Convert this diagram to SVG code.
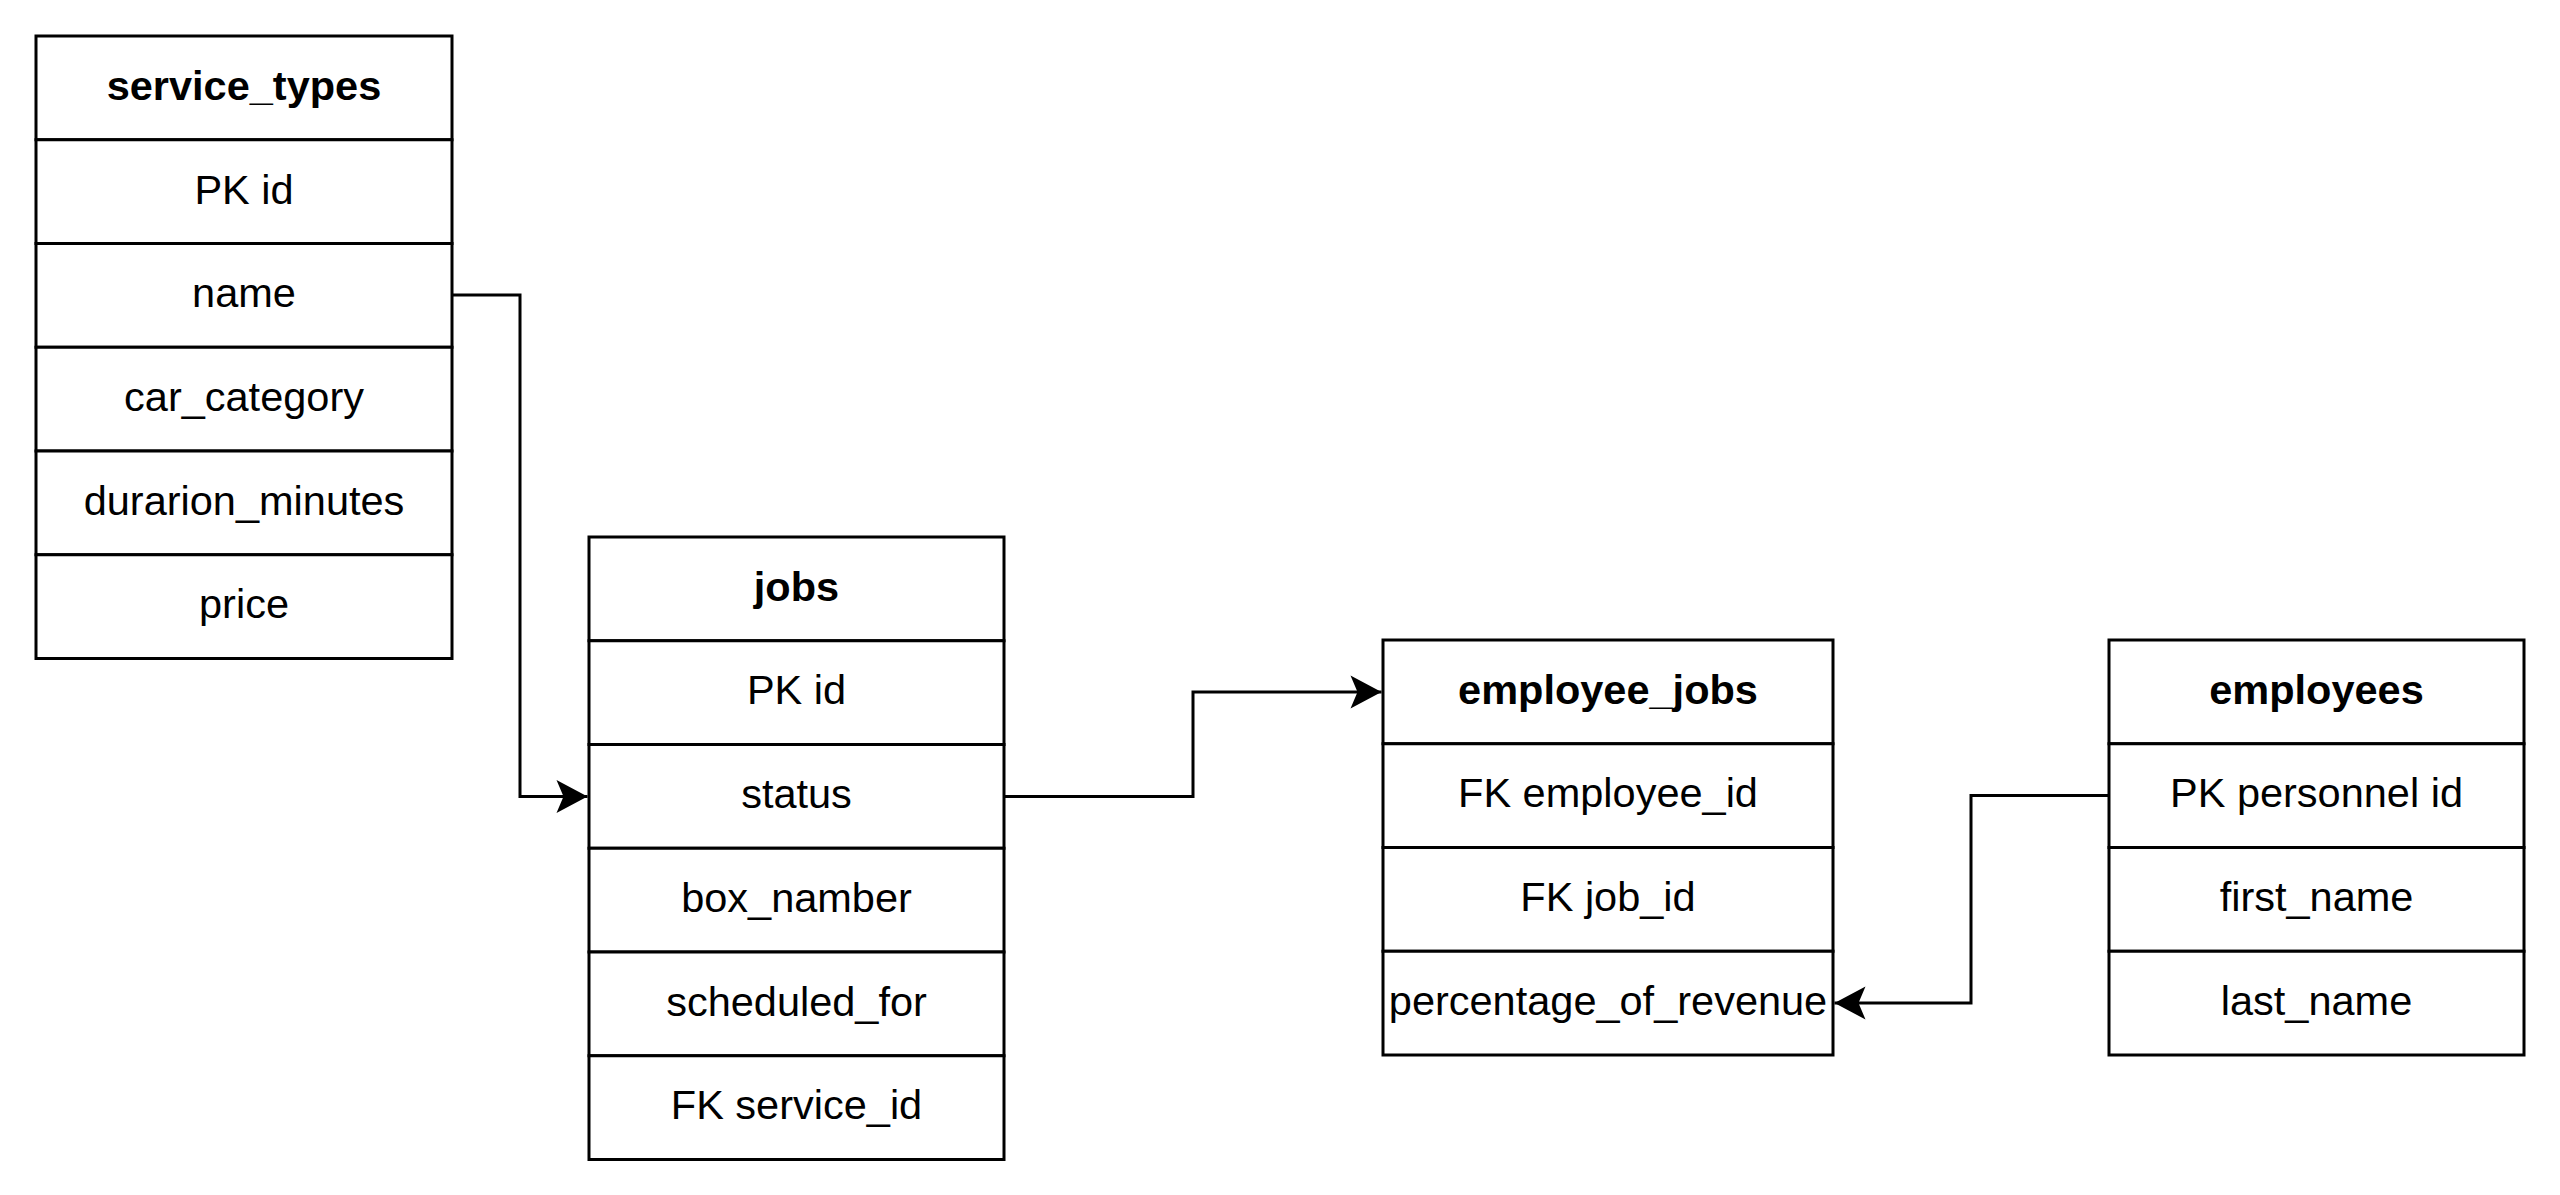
<svg xmlns="http://www.w3.org/2000/svg" width="2560" height="1195" viewBox="0 0 2560 1195">
  <style>
    .cell { fill: #ffffff; stroke: #000000; stroke-width: 3; }
    .txt { font-family: "Liberation Sans", Arial, Helvetica, sans-serif; font-size: 41.5px; fill: #000000; text-anchor: middle; }
    .hdr { font-weight: bold; }
    .conn { fill: none; stroke: #000000; stroke-width: 3; }
  </style>
  <defs>
    <marker id="arrow" markerUnits="userSpaceOnUse" viewBox="-32 -18 33 36" refX="0" refY="0" markerWidth="33" markerHeight="36" orient="auto">
      <path d="M0,0 L-31,-16.5 L-24,0 L-31,16.5 Z" fill="#000000"/>
    </marker>
  </defs>
  <rect x="0" y="0" width="2560" height="1195" fill="#ffffff"/>

  <!-- service_types table -->
  <g id="service_types">
    <rect class="cell" x="36" y="36" width="416" height="103.75"/>
    <rect class="cell" x="36" y="139.75" width="416" height="103.75"/>
    <rect class="cell" x="36" y="243.5" width="416" height="103.75"/>
    <rect class="cell" x="36" y="347.25" width="416" height="103.75"/>
    <rect class="cell" x="36" y="451" width="416" height="103.75"/>
    <rect class="cell" x="36" y="554.75" width="416" height="103.75"/>
    <text class="txt hdr" x="244" y="99.5">service_types</text>
    <text class="txt" x="244" y="203.5">PK id</text>
    <text class="txt" x="244" y="307">name</text>
    <text class="txt" x="244" y="410.75">car_category</text>
    <text class="txt" x="244" y="514.5">durarion_minutes</text>
    <text class="txt" x="244" y="618.25">price</text>
  </g>

  <!-- jobs table -->
  <g id="jobs">
    <rect class="cell" x="589" y="537" width="415" height="103.75"/>
    <rect class="cell" x="589" y="640.75" width="415" height="103.75"/>
    <rect class="cell" x="589" y="744.5" width="415" height="103.75"/>
    <rect class="cell" x="589" y="848.25" width="415" height="103.75"/>
    <rect class="cell" x="589" y="952" width="415" height="103.75"/>
    <rect class="cell" x="589" y="1055.75" width="415" height="103.75"/>
    <text class="txt hdr" x="796.5" y="600.5">jobs</text>
    <text class="txt" x="796.5" y="704.25">PK id</text>
    <text class="txt" x="796.5" y="808">status</text>
    <text class="txt" x="796.5" y="911.75">box_namber</text>
    <text class="txt" x="796.5" y="1015.5">scheduled_for</text>
    <text class="txt" x="796.5" y="1119.25">FK service_id</text>
  </g>

  <!-- employee_jobs table -->
  <g id="employee_jobs">
    <rect class="cell" x="1383" y="640" width="450" height="103.75"/>
    <rect class="cell" x="1383" y="743.75" width="450" height="103.75"/>
    <rect class="cell" x="1383" y="847.5" width="450" height="103.75"/>
    <rect class="cell" x="1383" y="951.25" width="450" height="103.75"/>
    <text class="txt hdr" x="1608" y="703.5">employee_jobs</text>
    <text class="txt" x="1608" y="807.25">FK employee_id</text>
    <text class="txt" x="1608" y="911">FK job_id</text>
    <text class="txt" x="1608" y="1014.75">percentage_of_revenue</text>
  </g>

  <!-- employees table -->
  <g id="employees">
    <rect class="cell" x="2109" y="640" width="415" height="103.75"/>
    <rect class="cell" x="2109" y="743.75" width="415" height="103.75"/>
    <rect class="cell" x="2109" y="847.5" width="415" height="103.75"/>
    <rect class="cell" x="2109" y="951.25" width="415" height="103.75"/>
    <text class="txt hdr" x="2316.5" y="703.5">employees</text>
    <text class="txt" x="2316.5" y="807.25">PK personnel id</text>
    <text class="txt" x="2316.5" y="911">first_name</text>
    <text class="txt" x="2316.5" y="1014.75">last_name</text>
  </g>

  <!-- relations -->
  <g id="connectors">
    <path class="conn" d="M452,295 H520 V796.5 H587.5" marker-end="url(#arrow)"/>
    <path class="conn" d="M1004,796.5 H1193 V692 H1381.5" marker-end="url(#arrow)"/>
    <path class="conn" d="M2109,795.5 H1971 V1003 H1834.5" marker-end="url(#arrow)"/>
  </g>
</svg>
